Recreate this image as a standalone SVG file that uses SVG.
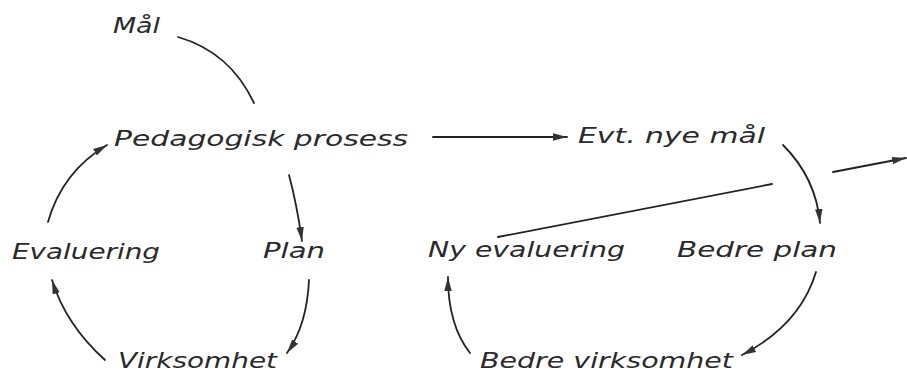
<svg xmlns="http://www.w3.org/2000/svg" width="907" height="373" viewBox="0 0 907 373">
<defs>
<style>
.lbl{font-family:"DejaVu Sans","Liberation Sans",sans-serif;font-style:italic;font-size:21px;fill:#2a2a2a;}
.c{fill:none;stroke:#222;stroke-width:1.8;stroke-linecap:round;}
</style>
<marker id="ah" markerUnits="userSpaceOnUse" markerWidth="15" markerHeight="10" viewBox="0 0 15 10" refX="14" refY="5" orient="auto">
<path d="M0,1.3 L14,5 L0,8.7 Z" fill="#333"/>
</marker>
</defs>
<rect width="907" height="373" fill="#fff"/>
<g id="connectors">
<path class="c" d="M178,37 Q230,52 254,103"/>
<path class="c" d="M48,222 Q62,172 107,145" marker-end="url(#ah)"/>
<path class="c" d="M289,175 Q297,205 302,241" marker-end="url(#ah)"/>
<path class="c" d="M309,280 Q307,325 287,353" marker-end="url(#ah)"/>
<path class="c" d="M105,360 Q66,325 52,280" marker-end="url(#ah)"/>
<path class="c" d="M433,137 L567,137" marker-end="url(#ah)"/>
<path class="c" d="M783,145 Q816,178 820,223" marker-end="url(#ah)"/>
<path class="c" d="M498,237 L772,184"/>
<path class="c" d="M833,172 L906,158" marker-end="url(#ah)"/>
<path class="c" d="M816,272 Q800,325 742,355" marker-end="url(#ah)"/>
<path class="c" d="M470,353 Q448,325 448,277" marker-end="url(#ah)"/>
</g>
<g id="mal"><text class="lbl" x="113" y="33" textLength="47" lengthAdjust="spacingAndGlyphs">Mål</text></g>
<g id="pedagogisk"><text class="lbl" x="114" y="146" textLength="294" lengthAdjust="spacingAndGlyphs">Pedagogisk prosess</text></g>
<g id="evt"><text class="lbl" x="578" y="143" textLength="187" lengthAdjust="spacingAndGlyphs">Evt. nye mål</text></g>
<g id="evaluering"><text class="lbl" x="12" y="259" textLength="148" lengthAdjust="spacingAndGlyphs">Evaluering</text></g>
<g id="plan"><text class="lbl" x="263" y="258" textLength="62" lengthAdjust="spacingAndGlyphs">Plan</text></g>
<g id="virksomhet"><text class="lbl" x="118" y="368" textLength="159" lengthAdjust="spacingAndGlyphs">Virksomhet</text></g>
<g id="nyevaluering"><text class="lbl" x="428" y="257" textLength="197" lengthAdjust="spacingAndGlyphs">Ny evaluering</text></g>
<g id="bedreplan"><text class="lbl" x="677" y="257" textLength="160" lengthAdjust="spacingAndGlyphs">Bedre plan</text></g>
<g id="bedrevirksomhet"><text class="lbl" x="480" y="368" textLength="253" lengthAdjust="spacingAndGlyphs">Bedre virksomhet</text></g>
</svg>
